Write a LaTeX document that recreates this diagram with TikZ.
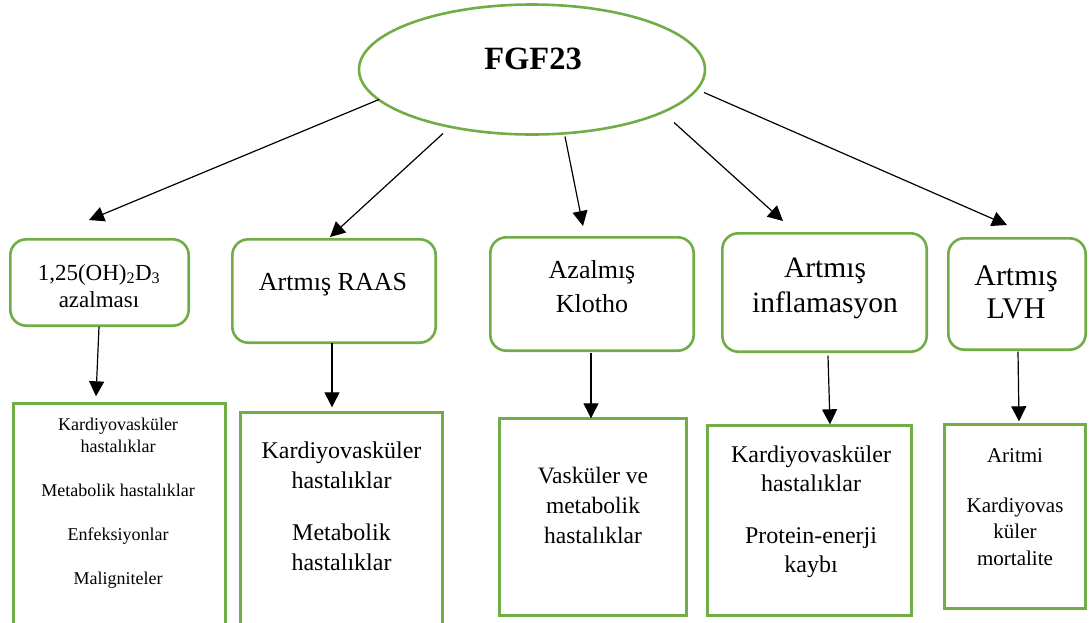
\documentclass[tikz,border=0pt]{standalone}
\usepackage{fontspec}
\setmainfont{Liberation Serif}
\usetikzlibrary{arrows.meta,shapes.geometric}
\definecolor{leaf}{HTML}{70AD47}
% font size / line pitch in one go
\newcommand{\fs}[2]{\fontsize{#1}{#2}\selectfont}
% centred stack of lines whose baseline is the first line
\newcommand{\cellstack}[1]{\begin{tabular}[t]{@{}c@{}}#1\end{tabular}}

\begin{document}
\begin{tikzpicture}[x=1pt,y=-1pt,
  hub/.style={ellipse,draw=leaf,line width=2.6pt,inner sep=0pt,outer sep=0pt,
    minimum width=346,minimum height=130},
  cause/.style={rectangle,draw=leaf,line width=2.6pt,rounded corners=16pt,
    inner sep=0pt,outer sep=0pt},
  effect/.style={rectangle,draw=leaf,line width=2.6pt,inner sep=0pt,outer sep=0pt},
  txt/.style={anchor=base,inner sep=0pt,outer sep=0pt,text=black},
  arr/.style={draw=black,line width=1.2pt,-{Triangle[length=15pt,width=15pt]}}]

\useasboundingbox (0,0) rectangle (1089,622);
\clip (0,0) rectangle (1089,622);

% central ellipse
\node[hub] (fgf) at (532,69.5) {};
\node[txt,font=\fs{32.5}{38}\bfseries] (fgft) at (533,69) {FGF23};

% first row: rounded boxes
\node[cause,minimum width=178.4,minimum height=86.4]  (b1) at (99.5,282.5) {};
\node[cause,minimum width=203.4,minimum height=103.4] (b2) at (334,291) {};
\node[cause,minimum width=203.4,minimum height=113.4] (b3) at (592,294) {};
\node[cause,minimum width=204.4,minimum height=118.4] (b4) at (824.5,292.5) {};
\node[cause,minimum width=137.4,minimum height=111.4] (b5) at (1017,294) {};

\node[txt,font=\fs{23}{27}]   (b1t) at (99,280)  {\cellstack{1,25(OH)\textsubscript{2}D\textsubscript{3}\\azalması}};
\node[txt,font=\fs{26}{30}]   (b2t) at (333,290) {\cellstack{Artmış RAAS}};
\node[txt,font=\fs{26}{34}]   (b3t) at (592,278) {\cellstack{Azalmış\\Klotho}};
\node[txt,font=\fs{29.5}{35}] (b4t) at (825,277) {\cellstack{Artmış\\inflamasyon}};
\node[txt,font=\fs{30}{33}]   (b5t) at (1016,285) {\cellstack{Artmış\\LVH}};

% second row: square boxes
\node[effect,minimum width=212.4,minimum height=255.4] (c1) at (119.5,531) {};
\node[effect,minimum width=202.4,minimum height=246.4] (c2) at (341.5,535.5) {};
\node[effect,minimum width=187.4,minimum height=197.4] (c3) at (593,517) {};
\node[effect,minimum width=204.4,minimum height=190.4] (c4) at (809.5,520.5) {};
\node[effect,minimum width=141.4,minimum height=184.4] (c5) at (1015,516.5) {};

\node[txt,font=\fs{18}{22}] (c1t) at (118,430)
  {\cellstack{Kardiyovasküler\\hastalıklar\\[22pt]Metabolik hastalıklar\\[22pt]Enfeksiyonlar\\[22pt]Maligniteler}};
\node[txt,font=\fs{24}{30}] (c2t) at (341.5,458)
  {\cellstack{Kardiyovasküler\\hastalıklar\\[22pt]Metabolik\\hastalıklar}};
\node[txt,font=\fs{23.5}{30}] (c3t) at (593,483)
  {\cellstack{Vasküler ve\\metabolik\\hastalıklar}};
\node[txt,font=\fs{24}{29}] (c4t) at (811,462)
  {\cellstack{Kardiyovasküler\\hastalıklar\\[23pt]Protein-enerji\\kaybı}};
\node[txt,font=\fs{21}{26.5}] (c5t) at (1015,462)
  {\cellstack{Aritmi\\[23.5pt]Kardiyovas\\küler\\mortalite}};

% connectors from the ellipse to the first row
\draw[arr] ([shift={(-153,30)}]fgf.center) -- ([shift={(-10.5,-19.3)}]b1.north);
\draw[arr] ([shift={(-89,64)}]fgf.center)  -- ([shift={(-4,-2.3)}]b2.north);
\draw[arr] ([shift={(33,67)}]fgf.center)   -- ([shift={(-9,-11.3)}]b3.north);
\draw[arr] ([shift={(142,53)}]fgf.center)  -- ([shift={(-41.5,-12.3)}]b4.north);
\draw[arr] ([shift={(172,23)}]fgf.center)  -- ([shift={(-10,-13.3)}]b5.north);

% connectors from the first row to the second row
\draw[arr] ([shift={(-0.5,1)}]b1.south) -- ([shift={(-23.5,-7)}]c1.north);
\draw[arr] ([shift={(-2,0)}]b2.south)   -- ([shift={(-9.5,-5)}]c2.north);
\draw[arr] ([shift={(-1,2)}]b3.south)   -- ([shift={(-2,0)}]c3.north);
\draw[arr] ([shift={(3.5,4)}]b4.south)  -- ([shift={(20.5,-1)}]c4.north);
\draw[arr] ([shift={(1,2)}]b5.south)    -- ([shift={(4,-3)}]c5.north);
\end{tikzpicture}
\end{document}
